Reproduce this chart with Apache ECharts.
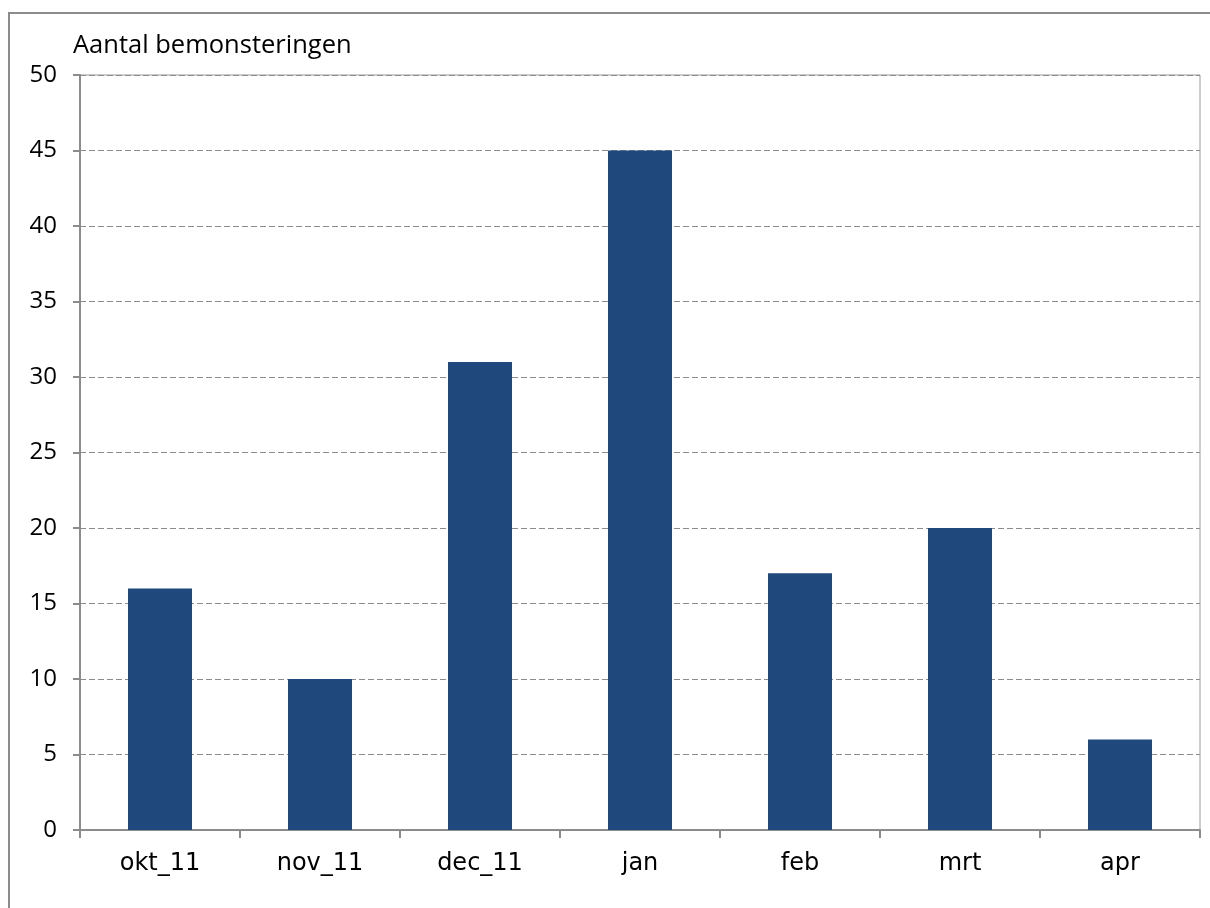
<!DOCTYPE html>
<html>
<head>
<meta charset="utf-8">
<style>
  html, body { margin: 0; padding: 0; background: #fff; }
  #chart { width: 1210px; height: 908px; }
</style>
</head>
<body>
<div id="chart"></div>
<script src="https://cdn.jsdelivr.net/npm/echarts@6/dist/echarts.min.js"></script>
<script>
const months = ['okt_11', 'nov_11', 'dec_11', 'jan', 'feb', 'mrt', 'apr'];
const samples = [16, 10, 31, 45, 17, 20, 6];
const yTitle = 'Aantal bemonsteringen';

const chart = echarts.init(document.getElementById('chart'));
chart.setOption({
  animation: false,
  backgroundColor: '#fff',
  graphic: [{
    type: 'rect',
    shape: { x: 9, y: 13, width: 1300, height: 1000 },
    style: { fill: 'none', stroke: '#8c8c8c', lineWidth: 2 },
    silent: true
  }],
  grid: {
    left: 80, right: 10, top: 75, bottom: 78,
    show: true, borderColor: '#9a9a9a', borderWidth: 1
  },
  xAxis: {
    type: 'category',
    data: months,
    axisLine: { lineStyle: { color: '#8c8c8c', width: 2 } },
    axisTick: { show: true, length: 8, alignWithLabel: false, lineStyle: { color: '#8c8c8c', width: 2 } },
    axisLabel: { color: '#000', fontFamily: 'DejaVu Sans', fontSize: 24, margin: 22 }
  },
  yAxis: {
    type: 'value',
    min: 0, max: 50, interval: 5,
    name: yTitle,
    nameLocation: 'end',
    nameGap: 16,
    nameTextStyle: { color: '#000', fontFamily: 'Open Sans', fontSize: 25.5, align: 'left', padding: [0, 0, 0, -7] },
    axisLine: { show: true, lineStyle: { color: '#8c8c8c', width: 2 } },
    axisTick: { show: true, length: 7, lineStyle: { color: '#8c8c8c', width: 2 } },
    axisLabel: { color: '#000', fontFamily: 'Open Sans', fontSize: 24, margin: 23 },
    splitLine: { lineStyle: { color: '#8c8c8c', type: [6, 3], width: 1 } }
  },
  series: [{
    type: 'bar',
    data: samples,
    barWidth: '40%',
    itemStyle: { color: '#1f497d' }
  }]
});
window.addEventListener('resize', () => chart.resize());
</script>
</body>
</html>
